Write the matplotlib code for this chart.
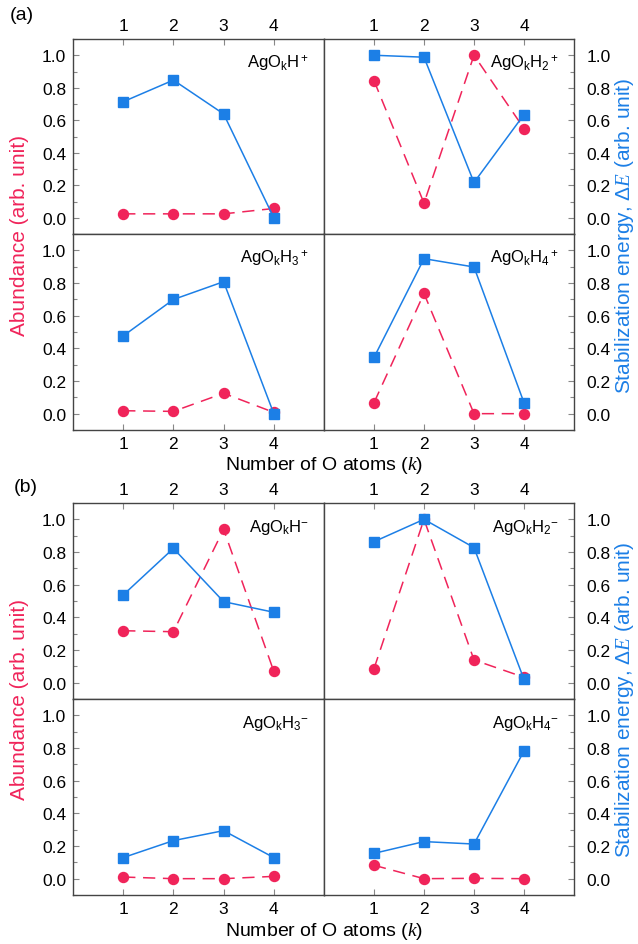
import matplotlib
matplotlib.use("Agg")
import matplotlib.pyplot as plt
from matplotlib.ticker import MultipleLocator

plt.rcParams['font.family'] = ['Liberation Sans', 'DejaVu Sans']
plt.rcParams['mathtext.fontset'] = 'custom'
plt.rcParams['mathtext.rm'] = 'Liberation Sans'
plt.rcParams['mathtext.it'] = 'Liberation Serif:italic'
plt.rcParams['mathtext.sf'] = 'Liberation Sans'

k_atoms = [1, 2, 3, 4]
x_ticks = [1, 2, 3, 4]
y_ticks = [0.0, 0.2, 0.4, 0.6, 0.8, 1.0]

# Panel (a): cations
labels_a = [r'AgO$_\mathrm{k}$H$^+$', r'AgO$_\mathrm{k}$H$_2$$^+$',
            r'AgO$_\mathrm{k}$H$_3$$^+$', r'AgO$_\mathrm{k}$H$_4$$^+$']
abund_a_H1 = [0.024, 0.024, 0.024, 0.057]
energy_a_H1 = [0.714, 0.847, 0.639, 0.0]
abund_a_H2 = [0.844, 0.09, 1.0, 0.549]
energy_a_H2 = [1.0, 0.988, 0.217, 0.635]
abund_a_H3 = [0.018, 0.014, 0.125, 0.008]
energy_a_H3 = [0.476, 0.699, 0.808, 0.0]
abund_a_H4 = [0.067, 0.736, 0.0, 0.0]
energy_a_H4 = [0.344, 0.949, 0.898, 0.067]

# Panel (b): anions
labels_b = [r'AgO$_\mathrm{k}$H$^{-}$', r'AgO$_\mathrm{k}$H$_2$$^{-}$',
            r'AgO$_\mathrm{k}$H$_3$$^{-}$', r'AgO$_\mathrm{k}$H$_4$$^{-}$']
abund_b_H1 = [0.318, 0.312, 0.939, 0.069]
energy_b_H1 = [0.537, 0.822, 0.496, 0.431]
abund_b_H2 = [0.086, 1.0, 0.139, 0.033]
energy_b_H2 = [0.863, 1.0, 0.827, 0.02]
abund_b_H3 = [0.01, 0.0, 0.0, 0.014]
energy_b_H3 = [0.129, 0.233, 0.294, 0.129]
abund_b_H4 = [0.082, 0.0, 0.002, 0.0]
energy_b_H4 = [0.155, 0.227, 0.212, 0.782]

RED = '#F0245A'
BLUE = '#1C7FE6'
FRAME = '#444444'
TICKC = '#888888'
FS = 12.5
LFS = 12

fig = plt.figure(figsize=(6.38, 9.45), dpi=100)

W = 638.0
H = 945.0
xl, xm, xr = 73, 324, 574


def make_panel(top, mid, bot, labels, abunds, energies, tag, tag_xy, xlabel_y):
    rows = [(top, mid), (mid, bot)]
    for r in range(2):
        for c in range(2):
            i = r * 2 + c
            y0, y1 = rows[r]
            x0, x1 = (xl, xm) if c == 0 else (xm, xr)
            ax = fig.add_axes([x0 / W, 1 - y1 / H, (x1 - x0) / W, (y1 - y0) / H])
            ax.plot(k_atoms, abunds[i], color=RED, lw=1.1, ls=(0, (8, 5)),
                    marker='o', ms=7.2, mec=RED, mfc=RED, zorder=2)
            ax.plot(k_atoms, energies[i], color=BLUE, lw=1.1, ls='-',
                    marker='s', ms=7.8, mec=BLUE, mfc=BLUE, zorder=3)
            ax.set_xlim(0, 5)
            ax.set_ylim(-0.1, 1.1)
            for s in ax.spines.values():
                s.set_color(FRAME)
                s.set_linewidth(1.0)
            ax.text(0.94, 0.93, labels[i], transform=ax.transAxes, ha='right',
                    va='top', fontsize=LFS)
            ax.set_xticks(x_ticks)
            ax.yaxis.set_major_locator(MultipleLocator(0.2))
            ax.yaxis.set_minor_locator(MultipleLocator(0.1))
            ax.tick_params(which='both', direction='in', color=TICKC,
                           labelsize=FS, width=0.8)
            ax.tick_params(which='major', length=4)
            ax.tick_params(which='minor', length=3)
            ax.tick_params(axis='x', which='minor', bottom=False, top=False)
            if r == 0:
                ax.tick_params(axis='x', top=True, bottom=False,
                               labeltop=True, labelbottom=False, pad=4)
            else:
                ax.tick_params(axis='x', top=False, bottom=True,
                               labeltop=False, labelbottom=True, pad=4)
            if c == 0:
                ax.tick_params(axis='y', which='both', left=True, right=False,
                               labelleft=True, labelright=False, pad=5)
            else:
                ax.tick_params(axis='y', which='both', left=False, right=True,
                               labelleft=False, labelright=True, pad=9)
            ax.set_yticks(y_ticks)
            ax.set_yticklabels(['%.1f' % v for v in y_ticks])
    yc = 1 - (top + bot) / 2 / H
    fig.text(20 / W, yc, 'Abundance (arb. unit)', rotation=90, color=RED,
             fontsize=15, ha='center', va='center')
    fig.text(624 / W, yc, r'Stabilization energy, $\Delta E$ (arb. unit)',
             rotation=90, color=BLUE, fontsize=15, ha='center', va='center')
    fig.text(xm / W, 1 - xlabel_y / H, r'Number of O atoms ($k$)',
             fontsize=14, ha='center', va='center')
    fig.text(tag_xy[0] / W, 1 - tag_xy[1] / H, tag, fontsize=14,
             ha='center', va='center')


make_panel(40, 235, 431, labels_a,
           [abund_a_H1, abund_a_H2, abund_a_H3, abund_a_H4],
           [energy_a_H1, energy_a_H2, energy_a_H3, energy_a_H4],
           '(a)', (22, 16), 466)
make_panel(504, 700, 896, labels_b,
           [abund_b_H1, abund_b_H2, abund_b_H3, abund_b_H4],
           [energy_b_H1, energy_b_H2, energy_b_H3, energy_b_H4],
           '(b)', (26, 488), 932)

fig.savefig('out.png', dpi=100)
